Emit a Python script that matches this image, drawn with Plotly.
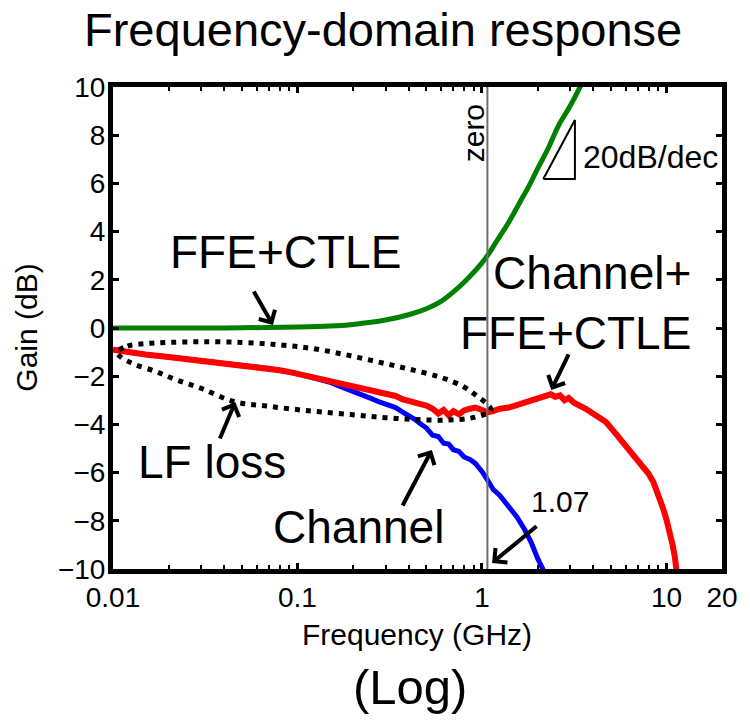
import math
import plotly.graph_objects as go

# ---------------- data ----------------
freq_ffe = [0.01, 0.03, 0.05, 0.1, 0.15, 0.2, 0.3, 0.4, 0.5, 0.6, 0.7, 0.8, 0.9, 1.0,
            1.07, 1.2, 1.4, 1.6, 1.8, 2.0, 2.3, 2.6, 3.0, 3.45, 3.7]
gain_ffe = [0.0, 0.0, 0.01, 0.04, 0.08, 0.15, 0.33, 0.55, 0.8, 1.1, 1.5, 1.9, 2.3, 2.7,
            3.0, 3.6, 4.4, 5.2, 5.9, 6.6, 7.5, 8.4, 9.2, 10.1, 10.6]

freq_channel = [0.01, 0.012, 0.015, 0.02, 0.025, 0.03, 0.04, 0.05, 0.06, 0.07, 0.08, 0.09,
                0.1, 0.115, 0.13, 0.15, 0.17, 0.19, 0.21, 0.23, 0.25, 0.28, 0.31, 0.34,
                0.37, 0.4, 0.43, 0.46, 0.5, 0.54, 0.58, 0.62, 0.66, 0.7, 0.75, 0.8, 0.86,
                0.92, 1.0, 1.07, 1.15, 1.25, 1.35, 1.45, 1.55, 1.7, 1.85, 2.0, 2.15, 2.3]
gain_channel = [-0.90, -1.00, -1.10, -1.20, -1.28, -1.35, -1.45, -1.52, -1.60, -1.68, -1.75, -1.82,
                -1.90, -2.02, -2.12, -2.25, -2.42, -2.55, -2.68, -2.80, -2.92, -3.08, -3.18, -3.30,
                -3.48, -3.62, -3.78, -3.95, -4.15, -4.45, -4.50, -4.78, -4.82, -5.05, -5.12, -5.35, -5.45,
                -5.62, -5.95, -6.30, -6.70, -6.95, -7.25, -7.55, -7.85, -8.35, -8.90, -9.55, -10.0, -10.5]

freq_total = [0.01, 0.012, 0.015, 0.02, 0.025, 0.03, 0.04, 0.05, 0.06, 0.07, 0.08, 0.09,
              0.1, 0.115, 0.13, 0.15, 0.17, 0.19, 0.21, 0.23, 0.25, 0.28, 0.31, 0.34,
              0.37, 0.4, 0.43, 0.46, 0.5, 0.54, 0.58, 0.62, 0.66, 0.7, 0.75, 0.8, 0.86,
              0.92, 1.0, 1.07, 1.15, 1.25, 1.4, 1.55, 1.7, 1.85, 2.0, 2.2, 2.36, 2.5,
              2.65, 2.8, 2.95, 3.15, 3.4, 3.65, 3.9, 4.2, 4.7, 5.2, 5.8, 6.4, 7.2, 8.0,
              8.5, 9.0, 9.6, 10.0, 10.4, 10.8, 11.1, 11.4]
gain_total = [-0.90, -1.00, -1.10, -1.20, -1.28, -1.35, -1.45, -1.52, -1.60, -1.68, -1.75, -1.82,
              -1.90, -2.02, -2.08, -2.18, -2.30, -2.38, -2.45, -2.50, -2.58, -2.70, -2.78, -2.82,
              -2.95, -3.00, -3.05, -3.15, -3.22, -3.35, -3.55, -3.40, -3.62, -3.45, -3.58, -3.42, -3.35,
              -3.30, -3.40, -3.50, -3.45, -3.35, -3.30, -3.20, -3.10, -3.00, -2.95, -2.85, -2.75, -2.85,
              -2.80, -3.00, -2.90, -3.10, -3.20, -3.35, -3.50, -3.65, -3.90, -4.30, -4.75, -5.15, -5.60, -6.05,
              -6.40, -6.85, -7.50, -7.95, -8.40, -9.00, -9.50, -10.2]

# dotted "LF loss" outline
ellipse_freq = [0.0105, 0.012, 0.015, 0.02, 0.03, 0.05, 0.08, 0.12, 0.18, 0.27, 0.4, 0.6, 0.8,
                0.95, 1.08, 1.12, 1.1, 1.0, 0.85, 0.65, 0.45, 0.3, 0.2, 0.12, 0.07, 0.045,
                0.03, 0.022, 0.017, 0.013, 0.011, 0.0105]
ellipse_gain = [-1.0, -0.75, -0.65, -0.6, -0.57, -0.6, -0.7, -0.85, -1.1, -1.4, -1.7, -2.05, -2.45,
                -2.85, -3.2, -3.4, -3.5, -3.62, -3.75, -3.82, -3.8, -3.72, -3.6, -3.45, -3.25, -3.05,
                -2.5, -2.15, -1.8, -1.5, -1.2, -1.0]

zero_freq = 1.07
slope_tri_freq = [2.15, 3.19, 3.19, 2.15]
slope_tri_gain = [6.18, 6.18, 8.63, 6.18]

x_range = [0.01, 20]
y_range = [-10, 10]
x_tickvals = [0.01, 0.1, 1, 10, 20]
x_ticktext = ["0.01", "0.1", "1", "10", "20"]
x_minor_ticks = [0.02, 0.03, 0.04, 0.05, 0.06, 0.07, 0.08, 0.09,
                 0.2, 0.3, 0.4, 0.5, 0.6, 0.7, 0.8, 0.9,
                 2, 3, 4, 5, 6, 7, 8, 9]
y_tickvals = [-10, -8, -6, -4, -2, 0, 2, 4, 6, 8, 10]

FONT = "Liberation Sans, Arial, Helvetica, sans-serif"
L = math.log10

fig = go.Figure()
fig.add_trace(go.Scatter(x=freq_channel, y=gain_channel, mode="lines",
                         line=dict(color="#0000ff", width=5), name="Channel"))
fig.add_trace(go.Scatter(x=freq_total, y=gain_total, mode="lines",
                         line=dict(color="#ff0000", width=6), name="Channel+FFE+CTLE"))
fig.add_trace(go.Scatter(x=freq_ffe, y=gain_ffe, mode="lines", line_shape="spline",
                         line=dict(color="#008000", width=5), name="FFE+CTLE"))
fig.add_trace(go.Scatter(x=ellipse_freq, y=ellipse_gain, mode="lines", line_shape="spline",
                         line=dict(color="black", width=5, dash="5px,6px"), name="LF loss"))
fig.add_trace(go.Scatter(x=[zero_freq, zero_freq], y=y_range, mode="lines",
                         line=dict(color="#6e6e6e", width=2), name="zero"))
fig.add_trace(go.Scatter(x=slope_tri_freq, y=slope_tri_gain, mode="lines",
                         line=dict(color="black", width=2), name="slope"))

ann = []
def text(xf, y, s, size, **kw):
    d = dict(x=L(xf), y=y, xref="x", yref="y", text=s, showarrow=False,
             xanchor="center", yanchor="middle",
             font=dict(size=size, color="black", family=FONT))
    d.update(kw)
    ann.append(d)

def arrow(xf, y, ax, ay):
    ann.append(dict(x=L(xf), y=y, xref="x", yref="y", text="", showarrow=True,
                    arrowhead=4, arrowsize=0.9, arrowwidth=4, arrowcolor="black",
                    ax=ax, ay=ay, standoff=0))

def ptext(x, y, s, size, **kw):
    d = dict(x=x, y=y, xref="paper", yref="paper", text=s, showarrow=False,
             xanchor="center", yanchor="middle",
             font=dict(size=size, color="black", family=FONT))
    d.update(kw)
    ann.append(d)

text(0.0863, 3.15, "FFE+CTLE", 46)
text(13.84, 1.02, "Channel+<br>FFE+CTLE", 46, xanchor="right", align="right")
text(0.0343, -5.56, "LF loss", 46)
text(0.2148, -8.26, "Channel", 46)
text(2.655, -7.18, "1.07", 30)
text(3.44, 7.10, "20dB/dec", 32, xanchor="left")
text(0.897, 8.09, "zero", 30, textangle=-90)

arrow(0.0736, 0.124, -20, -35)
arrow(0.046, -3.07, -16, 38)
arrow(0.535, -5.06, -30, 57)
arrow(2.376, -2.57, 18, -37)
arrow(1.134, -9.75, 46, -38)

# axis titles and extra label
ptext(-0.1434, 0.5, "Gain (dB)", 30, textangle=-90)
ptext(0.4992, -0.135, "Frequency (GHz)", 30)
ptext(0.4878, -0.2440, "(Log)", 49)

fig.update_layout(
    width=750, height=720,
    margin=dict(l=113, r=20, t=87, b=151),
    plot_bgcolor="white", paper_bgcolor="white",
    showlegend=False,
    font=dict(family=FONT, color="black"),
    title=dict(text="Frequency-domain response", x=84 / 750, xanchor="left", xref="container",
               y=1 - 30 / 720, yanchor="middle", yref="container",
               font=dict(size=47, color="black", family=FONT)),
    annotations=ann,
)
fig.update_xaxes(type="log", range=[L(x_range[0]), L(x_range[1])],
                 tickvals=x_tickvals, ticktext=x_ticktext,
                 ticks="inside", ticklen=6, tickwidth=3, tickcolor="black",
                 showline=True, linewidth=5, linecolor="black", mirror="allticks",
                 showgrid=False, zeroline=False, ticklabelstandoff=-1,
                 tickfont=dict(size=28, color="black", family=FONT),
                 minor=dict(tickvals=x_minor_ticks, ticks="inside", ticklen=4,
                            tickwidth=2, tickcolor="black", showgrid=False))
fig.update_yaxes(range=y_range, tickvals=y_tickvals,
                 ticks="inside", ticklen=6, tickwidth=3, tickcolor="black",
                 showline=True, linewidth=5, linecolor="black", mirror="allticks",
                 showgrid=False, zeroline=False, ticklabelstandoff=-3,
                 tickfont=dict(size=28, color="black", family=FONT))

fig.write_html("out.html")
